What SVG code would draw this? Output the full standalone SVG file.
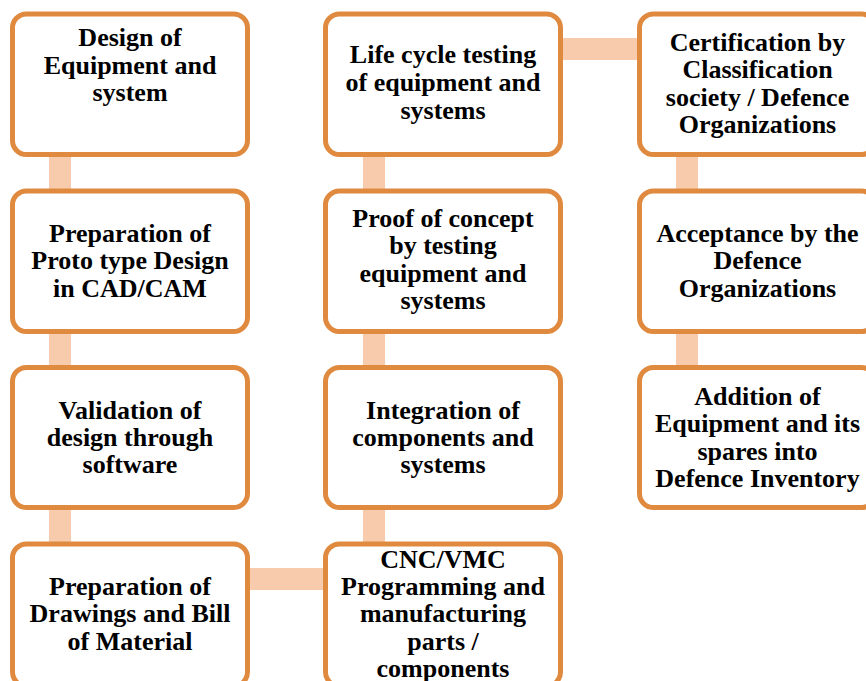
<svg xmlns="http://www.w3.org/2000/svg" width="866" height="681" viewBox="0 0 866 681">
<style>
.box{fill:#FFFFFF;stroke:#E08A40;stroke-width:5}
.con{fill:#F8CBAD}
text{font-family:"Liberation Serif","Times New Roman",serif;font-weight:bold;font-size:26px;fill:#000;text-anchor:middle}
</style>
<rect width="866" height="681" fill="#FFFFFF"/>
<g id="connectors">
<rect class="con" x="49" y="150" width="22" height="45"/>
<rect class="con" x="49" y="327" width="22" height="45"/>
<rect class="con" x="49" y="503" width="22" height="45"/>
<rect class="con" x="243" y="568" width="87" height="22"/>
<rect class="con" x="363" y="503" width="22" height="45"/>
<rect class="con" x="363" y="327" width="22" height="45"/>
<rect class="con" x="363" y="150" width="22" height="45"/>
<rect class="con" x="556" y="38" width="88" height="22"/>
<rect class="con" x="676" y="150" width="22" height="45"/>
<rect class="con" x="676" y="327" width="22" height="45"/>
</g>
<g id="n1">
<rect class="box" x="12.5" y="14" width="235" height="140.5" rx="14"/>
<text x="130" y="46">Design of</text>
<text x="130" y="73.5">Equipment and</text>
<text x="130" y="100.5">system</text>
</g>
<g id="n2">
<rect class="box" x="12.5" y="191" width="235" height="140.5" rx="14"/>
<text x="130" y="241.5">Preparation of</text>
<text x="130" y="269">Proto type Design</text>
<text x="130" y="296.5">in CAD/CAM</text>
</g>
<g id="n3">
<rect class="box" x="12.5" y="367.5" width="235" height="140" rx="14"/>
<text x="130" y="419">Validation of</text>
<text x="130" y="446">design through</text>
<text x="130" y="473">software</text>
</g>
<g id="n4">
<rect class="box" x="12.5" y="544" width="235" height="142" rx="14"/>
<text x="130" y="595">Preparation of</text>
<text x="130" y="622">Drawings and Bill</text>
<text x="130" y="650">of Material</text>
</g>
<g id="n5">
<rect class="box" x="325.5" y="544" width="235" height="142" rx="14"/>
<text x="443" y="568">CNC/VMC</text>
<text x="443" y="595">Programming and</text>
<text x="443" y="622">manufacturing</text>
<text x="443" y="650">parts /</text>
<text x="443" y="677">components</text>
</g>
<g id="n6">
<rect class="box" x="325.5" y="367.5" width="235" height="140" rx="14"/>
<text x="443" y="419">Integration of</text>
<text x="443" y="446">components and</text>
<text x="443" y="473">systems</text>
</g>
<g id="n7">
<rect class="box" x="325.5" y="191" width="235" height="140.5" rx="14"/>
<text x="443" y="227">Proof of concept</text>
<text x="443" y="254">by testing</text>
<text x="443" y="281.5">equipment and</text>
<text x="443" y="309">systems</text>
</g>
<g id="n8">
<rect class="box" x="325.5" y="14" width="235" height="140.5" rx="14"/>
<text x="443" y="63">Life cycle testing</text>
<text x="443" y="91">of equipment and</text>
<text x="443" y="118.5">systems</text>
</g>
<g id="n9">
<rect class="box" x="639.5" y="14" width="236" height="140.5" rx="14"/>
<text x="757.5" y="50.5">Certification by</text>
<text x="757.5" y="78">Classification</text>
<text x="757.5" y="106">society / Defence</text>
<text x="757.5" y="133">Organizations</text>
</g>
<g id="n10">
<rect class="box" x="639.5" y="191" width="236" height="140.5" rx="14"/>
<text x="757.5" y="241.5">Acceptance by the</text>
<text x="757.5" y="269">Defence</text>
<text x="757.5" y="296.5">Organizations</text>
</g>
<g id="n11">
<rect class="box" x="639.5" y="367.5" width="236" height="140" rx="14"/>
<text x="757.5" y="404.5">Addition of</text>
<text x="757.5" y="432">Equipment and its</text>
<text x="757.5" y="459.5">spares into</text>
<text x="757.5" y="487">Defence Inventory</text>
</g>
</svg>
